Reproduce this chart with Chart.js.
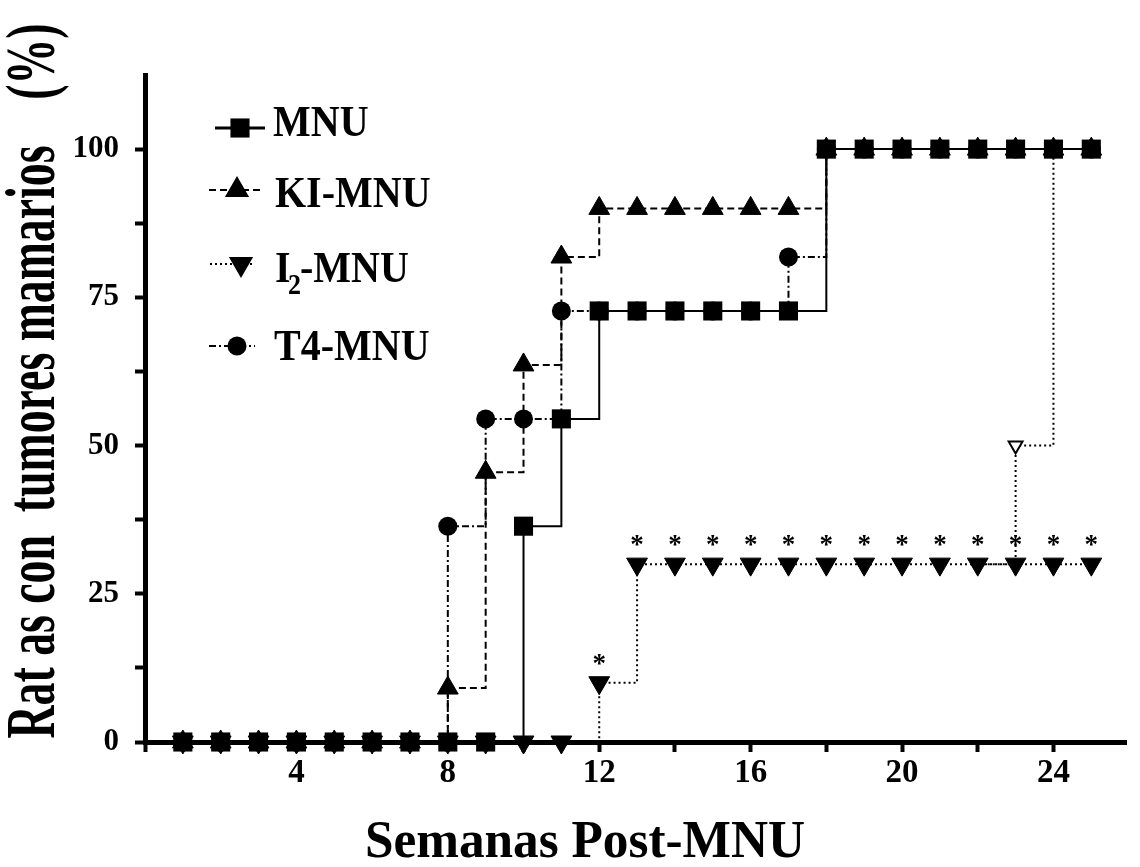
<!DOCTYPE html>
<html lang="es">
<head>
<meta charset="utf-8">
<title>Ratas con tumores mamarios</title>
<script src="https://cdn.jsdelivr.net/npm/chart.js@4.4.1/dist/chart.umd.min.js"></script>
<style>
  html, body { margin: 0; padding: 0; background: #fff; }
  #grafico { display: block; }
</style>
</head>
<body>
<canvas id="grafico" width="1140" height="867"></canvas>
<script>
// ================== DATOS ==================
// Semanas post-MNU (eje X)
const semanas = [1, 2, 3, 4, 5, 6, 7, 8, 9, 10, 11, 12, 13, 14, 15, 16, 17, 18, 19, 20, 21, 22, 23, 24, 25];

// % de ratas con tumores mamarios por grupo
const mnu   = [0, 0, 0, 0, 0, 0, 0, 0, 0, 36.4, 54.5, 72.7, 72.7, 72.7, 72.7, 72.7, 72.7, 100, 100, 100, 100, 100, 100, 100, 100];
const kiMnu = [0, 0, 0, 0, 0, 0, 0, 9.1, 45.5, 63.6, 81.8, 90, 90, 90, 90, 90, 90, 100, 100, 100, 100, 100, 100, 100, 100];
const i2Mnu = [0, 0, 0, 0, 0, 0, 0, 0, 0, 0, 0, 10, 30, 30, 30, 30, 30, 30, 30, 30, 30, 30, 30, 30, 30];
const t4Mnu = [0, 0, 0, 0, 0, 0, 0, 36.4, 54.5, 54.5, 72.7, 72.7, 72.7, 72.7, 72.7, 72.7, 81.8, 100, 100, 100, 100, 100, 100, 100, 100];

// tramo con el triángulo abierto (semana 23)
const abiertoSemanas = [22, 23, 24];
const abiertoValores = [30, 50, 100];

// semanas marcadas con * (I2-MNU)
const semanasSignif = [12, 13, 14, 15, 16, 17, 18, 19, 20, 21, 22, 23, 24, 25];

// etiquetas de los ejes
const etiquetasX = [4, 8, 12, 16, 20, 24];
const etiquetasY = [0, 25, 50, 75, 100];

const FUENTE = '"Liberation Serif", "Times New Roman", serif';

// convierte dos arrays en puntos {x, y}
const puntos = (xs, ys) => xs.map((x, i) => ({ x: x, y: ys[i] }));

// devuelve la etiqueta solo si el valor está en la lista
const etiqueta = (lista, v) => {
    const r = Math.round(v * 1000) / 1000;
    return lista.includes(r) ? String(r) : '';
};

// ================== ESTILOS DE CADA GRUPO ==================
const datasets = [
    {
        label: 'MNU',
        data: puntos(semanas, mnu),
        borderColor: '#000', backgroundColor: '#000',
        borderWidth: 2, borderDash: [],
        pointStyle: 'rect', pointRadius: 13.5, pointBorderWidth: 0
    },
    {
        label: 'KI-MNU',
        data: puntos(semanas, kiMnu),
        borderColor: '#000', backgroundColor: '#000',
        borderWidth: 2, borderDash: [7, 4],
        pointStyle: 'triangle', pointRadius: 12, pointBorderWidth: 1
    },
    {
        label: 'I2-MNU',
        data: puntos(semanas, i2Mnu),
        borderColor: '#000', backgroundColor: '#000',
        borderWidth: 2, borderDash: [2, 3],
        pointStyle: 'triangle', pointRotation: 180, pointRadius: 12, pointBorderWidth: 1
    },
    {
        label: 'T4-MNU',
        data: puntos(semanas, t4Mnu),
        borderColor: '#000', backgroundColor: '#000',
        borderWidth: 2, borderDash: [7, 3, 2, 3],
        pointStyle: 'circle', pointRadius: 9.5, pointBorderWidth: 0
    },
    {
        label: 'abierto',
        data: puntos(abiertoSemanas, abiertoValores),
        borderColor: '#000', backgroundColor: '#fff',
        borderWidth: 2, borderDash: [2, 3],
        pointStyle: 'triangle', pointRotation: 180,
        pointRadius: ctx => ctx.dataIndex === 1 ? 8 : 0,
        pointBorderWidth: 2, pointBorderColor: '#000', pointBackgroundColor: '#fff'
    }
];
datasets.forEach(d => {
    d.stepped = true;
    d.clip = false;
    if (!d.pointBackgroundColor) { d.pointBackgroundColor = '#000'; d.pointBorderColor = '#000'; }
});

// ================== PLUGIN: LEYENDA, TÍTULOS Y ASTERISCOS ==================
function textoEscalado(ctx, txt, x, y, sx, sy, align) {
    ctx.save();
    ctx.translate(x, y);
    ctx.scale(sx, sy);
    ctx.textAlign = align || 'left';
    ctx.textBaseline = 'alphabetic';
    ctx.fillText(txt, 0, 0);
    ctx.restore();
}

const extras = {
    id: 'extras',
    afterDatasetsDraw(chart) {
        const ctx = chart.ctx, xS = chart.scales.x, yS = chart.scales.y;
        ctx.save();
        ctx.fillStyle = '#000';
        ctx.font = 'bold 27px ' + FUENTE;
        ctx.textAlign = 'center';
        ctx.textBaseline = 'alphabetic';
        semanasSignif.forEach(s => {
            const v = i2Mnu[semanas.indexOf(s)];
            ctx.fillText('*', xS.getPixelForValue(s), yS.getPixelForValue(v) - 11);
        });
        ctx.restore();
    },
    afterDraw(chart) {
        const ctx = chart.ctx;
        ctx.save();
        ctx.fillStyle = '#000';
        ctx.strokeStyle = '#000';

        // --- leyenda ---
        const filas = [
            { ds: 0, y: 128, x0: 215, x1: 265, xm: 240, ancho: 3 },
            { ds: 1, y: 190, x0: 209, x1: 262, xm: 237, ancho: 2 },
            { ds: 2, y: 264, x0: 210, x1: 255, xm: 241, ancho: 2 },
            { ds: 3, y: 346, x0: 209, x1: 255, xm: 237, ancho: 2 }
        ];
        filas.forEach(f => {
            const d = datasets[f.ds];
            ctx.lineWidth = f.ancho;
            ctx.setLineDash(d.borderDash);
            ctx.beginPath();
            ctx.moveTo(f.x0, f.y);
            ctx.lineTo(f.x1, f.y);
            ctx.stroke();
            ctx.setLineDash([]);
            Chart.helpers.drawPoint(ctx, {
                pointStyle: d.pointStyle, rotation: d.pointRotation || 0,
                radius: d.pointRadius, borderWidth: d.pointBorderWidth
            }, f.xm, f.y);
        });
        ctx.font = 'bold 40px ' + FUENTE;
        textoEscalado(ctx, 'MNU', 273, 136, 1, 1.12);
        textoEscalado(ctx, 'KI-MNU', 275, 207, 1, 1.12);
        textoEscalado(ctx, 'I', 275, 282, 1, 1.12);
        ctx.font = 'bold 26px ' + FUENTE;
        textoEscalado(ctx, '2', 288, 294, 1, 1.12);
        ctx.font = 'bold 40px ' + FUENTE;
        textoEscalado(ctx, '-MNU', 300, 282, 1, 1.12);
        textoEscalado(ctx, 'T4-MNU', 274, 360, 1, 1.12);

        // --- título eje X ---
        ctx.font = 'bold 52px ' + FUENTE;
        const tx = 'Semanas Post-MNU';
        textoEscalado(ctx, tx, 585, 857, 440 / ctx.measureText(tx).width, 1, 'center');

        // --- título eje Y (vertical) ---
        ctx.font = 'bold 48px ' + FUENTE;
        const ty = 'Rat as con  tumores mamarios    (%)';
        const largo = 715;
        ctx.save();
        ctx.translate(54, 381);
        ctx.rotate(-Math.PI / 2);
        textoEscalado(ctx, ty, 0, 0, largo / ctx.measureText(ty).width, 1.45, 'center');
        ctx.restore();

        ctx.restore();
    }
};

// ================== GRÁFICO ==================
const ejeComun = {
    grid: { display: true, drawOnChartArea: false, drawTicks: true, tickLength: 10, tickWidth: 4, tickColor: '#000' },
    border: { display: true, color: '#000', width: 5 }
};

new Chart(document.getElementById('grafico').getContext('2d'), {
    type: 'line',
    data: { datasets: datasets },
    plugins: [extras],
    options: {
        responsive: false,
        animation: false,
        layout: { padding: { top: 75, right: 0, left: 0, bottom: 0 } },
        plugins: { legend: { display: false }, tooltip: { enabled: false } },
        scales: {
            x: Object.assign({}, ejeComun, {
                type: 'linear', min: 0, max: 25.93,
                afterFit: s => { s.height = 125; },
                ticks: {
                    stepSize: 2, includeBounds: false, autoSkip: false, maxRotation: 0, padding: 2,
                    color: '#000', font: { family: FUENTE, size: 33, weight: 'bold' },
                    callback: v => etiqueta(etiquetasX, v)
                }
            }),
            y: Object.assign({}, ejeComun, {
                type: 'linear', min: 0, max: 112.5,
                afterFit: s => { s.width = 145; },
                ticks: {
                    stepSize: 12.5, includeBounds: false, autoSkip: false, padding: 16,
                    color: '#000', font: { family: FUENTE, size: 31, weight: 'bold' },
                    // la marca superior (112.5) no se dibuja
                    callback: v => v > 110 ? null : etiqueta(etiquetasY, v)
                }
            })
        }
    }
});
</script>
</body>
</html>
